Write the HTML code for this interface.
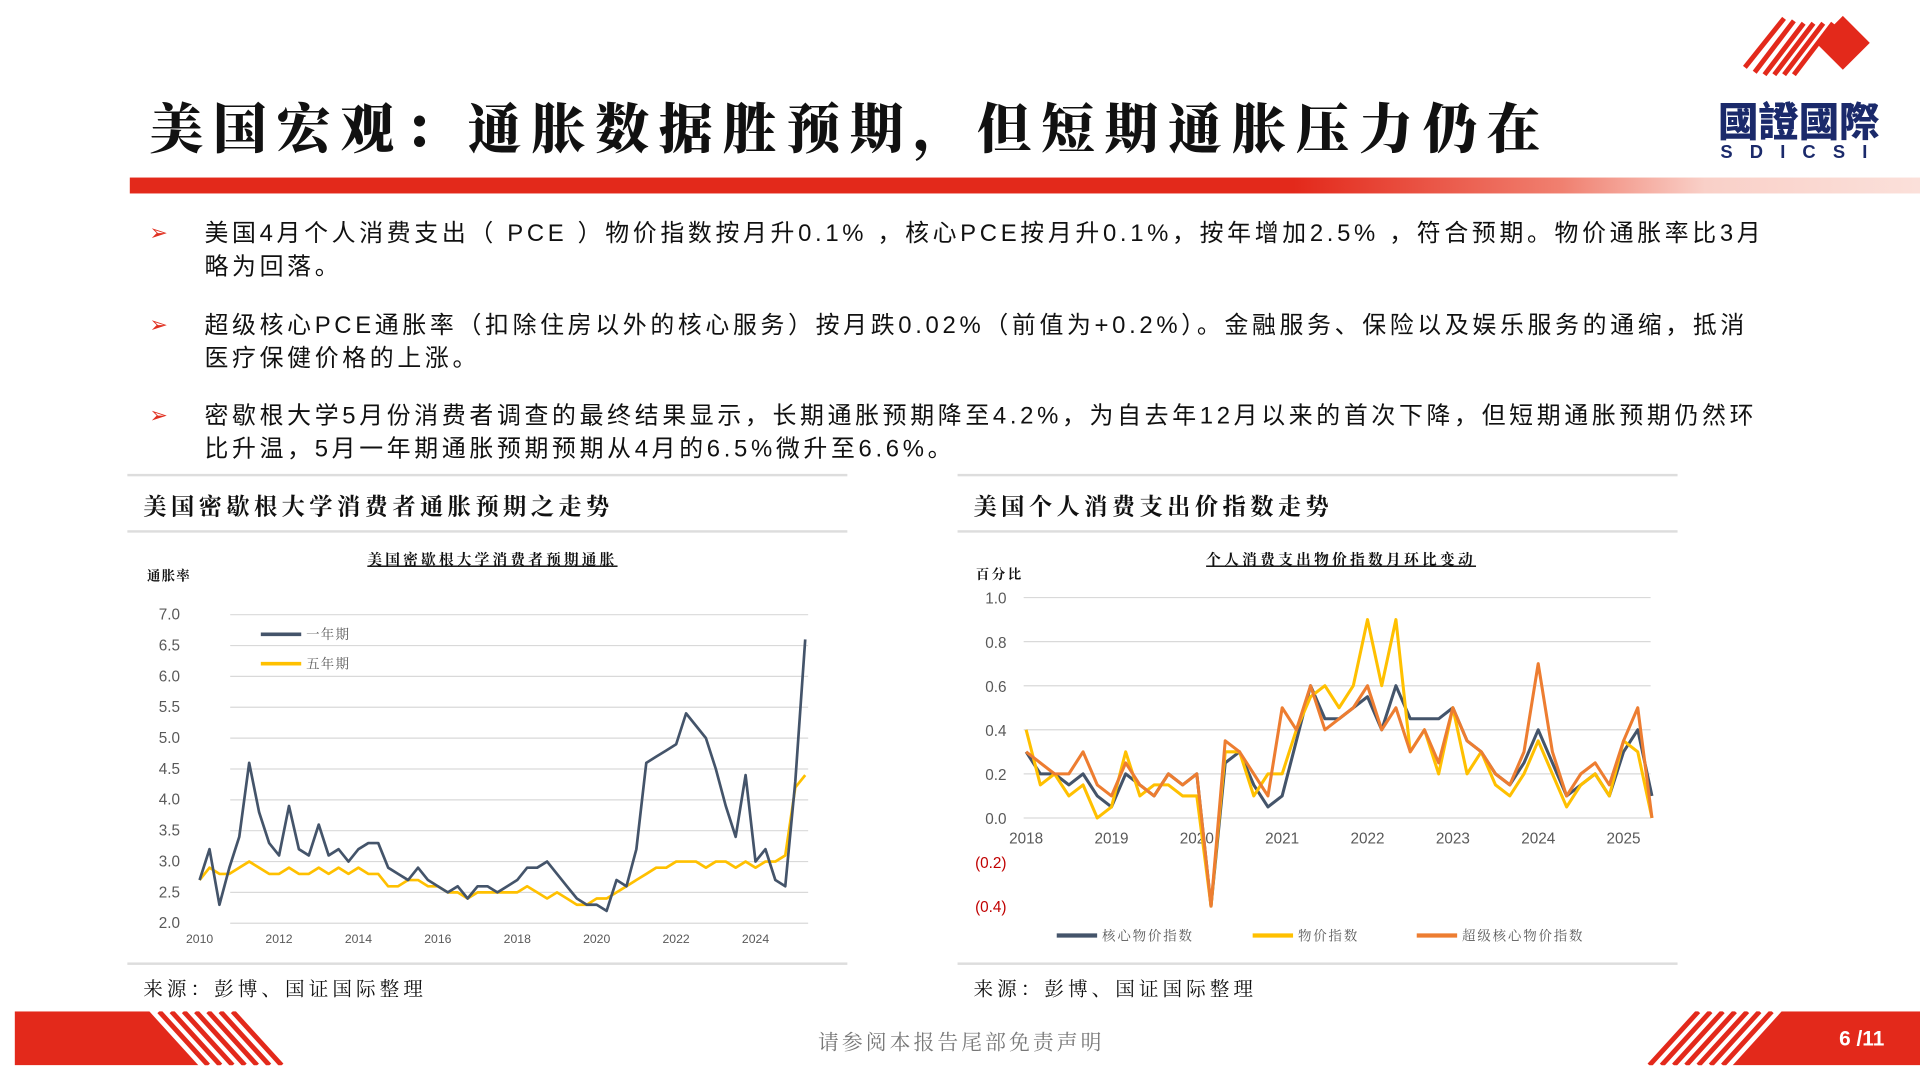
<!DOCTYPE html>
<html><head><meta charset="utf-8">
<style>
html,body{margin:0;padding:0;background:#fff;overflow:hidden}
#wrap{width:1568px;height:882px;position:relative;transform:scale(1.2244898);transform-origin:0 0;font-family:"Liberation Sans","Noto Sans CJK SC",sans-serif}
.abs{position:absolute}
.bul{position:absolute;left:122px;color:#e03020;font-size:18px}
.txt{position:absolute;left:167px;white-space:nowrap;font-size:19.5px;line-height:27px;color:#111;letter-spacing:3px}
.hline{position:absolute;height:2px;background:#ddd}
.sec{position:absolute;font-family:"Noto Serif CJK SC",serif;font-weight:bold;font-size:19px;color:#111;letter-spacing:3.6px}
.src{position:absolute;font-family:"Noto Serif CJK SC",serif;font-size:16px;color:#111;letter-spacing:3.3px}
</style></head><body>
<div id="wrap">
<div class="abs" style="left:122px;top:70px;font-family:'Noto Serif CJK SC',serif;font-weight:900;font-size:44px;letter-spacing:8px;color:#111;white-space:nowrap">美国宏观：通胀数据胜预期，但短期通胀压力仍在</div>
<div class="abs" style="left:106px;top:145px;width:1462px;height:13px;background:linear-gradient(90deg,#e3291b 0%,#e3291b 65%,#f08070 80%,#f9d0c8 88%,#fbe0da 100%)"></div>
<svg class="abs" style="left:1395px;top:5px" width="165" height="130">
<g stroke="#e3291b" stroke-width="4">
<line x1="30" y1="50" x2="62" y2="10"/><line x1="38" y1="54" x2="70" y2="12"/><line x1="46" y1="56" x2="78" y2="14"/><line x1="54" y1="56" x2="86" y2="14"/><line x1="62" y1="56" x2="94" y2="14"/><line x1="70" y1="56" x2="102" y2="14"/></g>
<polygon points="110,8 132,30 110,52 88,30" fill="#e3291b"/>
<text x="8" y="106" font-family="Noto Sans CJK TC,sans-serif" font-weight="900" font-size="33" fill="#1b2a6b">國證國際</text>
<text x="10" y="124" font-family="Liberation Sans,sans-serif" font-weight="bold" font-size="15" fill="#1b2a6b" letter-spacing="14">SDICSI</text>
</svg>

<div class="bul" style="top:180px">➢</div>
<div class="txt" style="top:178px">美国4月个人消费支出（ PCE ）物价指数按月升0.1% ，核心PCE按月升0.1%，按年增加2.5% ，符合预期。物价通胀率比3月<br>略为回落。</div>
<div class="bul" style="top:255px">➢</div>
<div class="txt" style="top:253px">超级核心PCE通胀率（扣除住房以外的核心服务）按月跌0.02%（前值为+0.2%）。金融服务、保险以及娱乐服务的通缩，抵消<br>医疗保健价格的上涨。</div>
<div class="bul" style="top:329px">➢</div>
<div class="txt" style="top:327px">密歇根大学5月份消费者调查的最终结果显示，长期通胀预期降至4.2%，为自去年12月以来的首次下降，但短期通胀预期仍然环<br>比升温，5月一年期通胀预期预期从4月的6.5%微升至6.6%。</div>

<div class="hline" style="left:104px;top:387px;width:588px"></div>
<div class="hline" style="left:782px;top:387px;width:588px"></div>
<div class="hline" style="left:104px;top:433px;width:588px"></div>
<div class="hline" style="left:782px;top:433px;width:588px"></div>
<div class="hline" style="left:104px;top:786px;width:588px"></div>
<div class="hline" style="left:782px;top:786px;width:588px"></div>
<div class="sec" style="left:117px;top:399px">美国密歇根大学消费者通胀预期之走势</div>
<div class="sec" style="left:795px;top:399px">美国个人消费支出价指数走势</div>
<div class="src" style="left:117px;top:795px">来源：彭博、国证国际整理</div>
<div class="src" style="left:795px;top:795px">来源：彭博、国证国际整理</div>

<svg class="abs" id="c1" style="left:0;top:0" width="700" height="790"></svg>
<svg class="abs" id="c2" style="left:0;top:0;" width="1400" height="790"></svg>

<svg class="abs" style="left:12px;top:826px" width="222" height="44">
<polygon points="0,0 110,0 150,44 0,44" fill="#e3291b"/>
<g stroke="#e3291b" stroke-width="4"><line x1="118" y1="0" x2="158" y2="44"/><line x1="128" y1="0" x2="168" y2="44"/><line x1="138" y1="0" x2="178" y2="44"/><line x1="148" y1="0" x2="188" y2="44"/><line x1="158" y1="0" x2="198" y2="44"/><line x1="168" y1="0" x2="208" y2="44"/><line x1="178" y1="0" x2="218" y2="44"/></g>
</svg>
<svg class="abs" style="left:1345px;top:826px" width="223" height="44">
<g stroke="#e3291b" stroke-width="4"><line x1="2" y1="44" x2="42" y2="0"/><line x1="12" y1="44" x2="52" y2="0"/><line x1="22" y1="44" x2="62" y2="0"/><line x1="32" y1="44" x2="72" y2="0"/><line x1="42" y1="44" x2="82" y2="0"/><line x1="52" y1="44" x2="92" y2="0"/><line x1="62" y1="44" x2="102" y2="0"/></g>
<polygon points="110,0 223,0 223,44 70,44" fill="#e3291b"/>
<text x="157" y="28" font-family="Liberation Sans,sans-serif" font-weight="bold" font-size="17" fill="#fff">6 /11</text>
</svg>
<div class="abs" style="left:668px;top:837px;font-family:'Noto Serif CJK SC',serif;font-size:17px;color:#777;letter-spacing:2.5px">请参阅本报告尾部免责声明</div>
</div>

<script>
// Chart 1 data (quarterly, from 2010 Q1)
const c1Start = 2010;
const c1Step = 0.25;
const oneYear = [2.7,3.2,2.3,2.9, 3.4,4.6,3.8,3.3, 3.1,3.9,3.2,3.1, 3.6,3.1,3.2,3.0, 3.2,3.3,3.3,2.9, 2.8,2.7,2.9,2.7, 2.6,2.5,2.6,2.4, 2.6,2.6,2.5,2.6, 2.7,2.9,2.9,3.0, 2.8,2.6,2.4,2.3, 2.3,2.2,2.7,2.6, 3.2,4.6,4.7,4.8, 4.9,5.4,5.2,5.0, 4.5,3.9,3.4,4.4, 3.0,3.2,2.7,2.6, 4.3,6.6];
const fiveYear = [2.7,2.9,2.8,2.8, 2.9,3.0,2.9,2.8, 2.8,2.9,2.8,2.8, 2.9,2.8,2.9,2.8, 2.9,2.8,2.8,2.6, 2.6,2.7,2.7,2.6, 2.6,2.5,2.5,2.4, 2.5,2.5,2.5,2.5, 2.5,2.6,2.5,2.4, 2.5,2.4,2.3,2.3, 2.4,2.4,2.5,2.6, 2.7,2.8,2.9,2.9, 3.0,3.0,3.0,2.9, 3.0,3.0,2.9,3.0, 2.9,3.0,3.0,3.1, 4.2,4.4];
const c1Ticks = [2.0,2.5,3.0,3.5,4.0,4.5,5.0,5.5,6.0,6.5,7.0];
const c1Years = [2010,2012,2014,2016,2018,2020,2022,2024];
// Chart 2 data (bi-monthly, from 2018)
const c2Start = 2018;
const c2Step = 1/6;
const corePce = [.3,.2,.2,.15,.2,.1, .05,.2,.15,.1,.2,.15, .2,-.4,.25,.3,.15,.05, .1,.35,.6,.45,.45,.5, .55,.4,.6,.45,.45,.45, .5,.35,.3,.2,.15,.25, .4,.25,.1,.15,.2,.1, .3,.4,.1];
const headlinePce = [.4,.15,.2,.1,.15,0, .05,.3,.1,.15,.15,.1, .1,-.4,.3,.3,.1,.2, .2,.4,.55,.6,.5,.6, .9,.6,.9,.3,.4,.2, .5,.2,.3,.15,.1,.2, .35,.2,.05,.15,.2,.1, .35,.3,0];
const superCore = [.3,.25,.2,.2,.3,.15, .1,.25,.15,.1,.2,.15, .2,-.4,.35,.3,.2,.1, .5,.4,.6,.4,.45,.5, .6,.4,.5,.3,.4,.25, .5,.35,.3,.2,.15,.3, .7,.3,.1,.2,.25,.15, .35,.5,0];
const c2Ticks = [-0.4,-0.2,0,0.2,0.4,0.6,0.8,1.0];
const c2Years = [2018,2019,2020,2021,2022,2023,2024,2025];

const NS='http://www.w3.org/2000/svg';
function mk(svg,tag,attrs,text){const e=document.createElementNS(NS,tag);for(const k in attrs)e.setAttribute(k,attrs[k]);if(text!==undefined)e.textContent=text;svg.appendChild(e);return e;}

// chart 1
const s1=document.getElementById('c1');
const x1=t=>163+(t-2010)*32.43;
const y1=v=>754-(v-2)*50.4;
c1Ticks.forEach(v=>{
 const g=mk(s1,'line',{x1:188,x2:660,y1:y1(v),y2:y1(v),stroke:'#d9d9d9','stroke-width':1});
 
 const t=mk(s1,'text',{x:147,y:y1(v)+4,'font-size':12.5,fill:'#595959','text-anchor':'end','font-family':'Liberation Sans,sans-serif'},v.toFixed(1));
 
});
c1Years.forEach(yr=>{
 const t=mk(s1,'text',{x:x1(yr),y:770,'font-size':10,fill:'#595959','text-anchor':'middle','font-family':'Liberation Sans,sans-serif'},String(yr));
 
});
function line(svg,arr,start,step,xf,yf,color,w,name){
 const p=arr.map((v,i)=>xf(start+i*step).toFixed(1)+','+yf(v).toFixed(1)).join(' ');
 const e=mk(svg,'polyline',{points:p,fill:'none',stroke:color,'stroke-width':w,'stroke-linejoin':'round'});
 
}
line(s1,fiveYear,c1Start,c1Step,x1,y1,'#ffc000',2.2,'five-year-line');
line(s1,oneYear,c1Start,c1Step,x1,y1,'#44546a',2.2,'one-year-line');
let e;
e=mk(s1,'text',{x:300,y:461,'font-size':12,'font-weight':'bold','text-decoration':'underline','letter-spacing':2.6,'font-family':'Noto Serif CJK SC,serif',fill:'#111'},'美国密歇根大学消费者预期通胀');
e=mk(s1,'text',{x:120,y:474,'font-size':11,'font-weight':'bold','letter-spacing':1,'font-family':'Noto Serif CJK SC,serif',fill:'#111'},'通胀率');
e=mk(s1,'line',{x1:213,x2:246,y1:518,y2:518,stroke:'#44546a','stroke-width':3});
e=mk(s1,'text',{x:250,y:522,'font-size':11,fill:'#595959','letter-spacing':1,'font-family':'Noto Serif CJK SC,serif'},'一年期');
e=mk(s1,'line',{x1:213,x2:246,y1:542,y2:542,stroke:'#ffc000','stroke-width':3});
e=mk(s1,'text',{x:250,y:546,'font-size':11,fill:'#595959','letter-spacing':1,'font-family':'Noto Serif CJK SC,serif'},'五年期');

// chart 2
const s2=document.getElementById('c2');
const x2=t=>838+(t-2018)*69.7;
const y2=v=>668-v*180;
c2Ticks.forEach(v=>{
 if(v>0){const g=mk(s2,'line',{x1:836,x2:1348,y1:y2(v),y2:y2(v),stroke:'#d9d9d9','stroke-width':1});
 }
 const lbl=v<0?'('+Math.abs(v).toFixed(1)+')':v.toFixed(1);
 const t=mk(s2,'text',{x:822,y:y2(v)+5,'font-size':12.5,fill:v<0?'#c00000':'#595959','text-anchor':'end','font-family':'Liberation Sans,sans-serif'},lbl);
 
});
e=mk(s2,'line',{x1:836,x2:1348,y1:y2(0),y2:y2(0),stroke:'#d9d9d9','stroke-width':1});
c2Years.forEach(yr=>{
 const t=mk(s2,'text',{x:x2(yr),y:689,'font-size':12.5,fill:'#595959','text-anchor':'middle','font-family':'Liberation Sans,sans-serif'},String(yr));
 
});
line(s2,corePce,c2Start,c2Step,x2,y2,'#44546a',2.5,'core-pce-line');
line(s2,headlinePce,c2Start,c2Step,x2,y2,'#ffc000',2.5,'headline-pce-line');
line(s2,superCore,c2Start,c2Step,x2,y2,'#ed7d31',2.5,'supercore-pce-line');
e=mk(s2,'text',{x:985,y:461,'font-size':12,'font-weight':'bold','text-decoration':'underline','letter-spacing':2.7,'font-family':'Noto Serif CJK SC,serif',fill:'#111'},'个人消费支出物价指数月环比变动');
e=mk(s2,'text',{x:797,y:473,'font-size':11,'font-weight':'bold','letter-spacing':2,'font-family':'Noto Serif CJK SC,serif',fill:'#111'},'百分比');
const legs=[['#44546a','核心物价指数',863],['#ffc000','物价指数',1023],['#ed7d31','超级核心物价指数',1157]];
legs.forEach(l=>{
 let s=mk(s2,'line',{x1:l[2],x2:l[2]+33,y1:764,y2:764,stroke:l[0],'stroke-width':3.5});
 let t=mk(s2,'text',{x:l[2]+37,y:768,'font-size':11,fill:'#595959','letter-spacing':1.5,'font-family':'Noto Serif CJK SC,serif'},l[1]);
});
</script>
</body></html>
